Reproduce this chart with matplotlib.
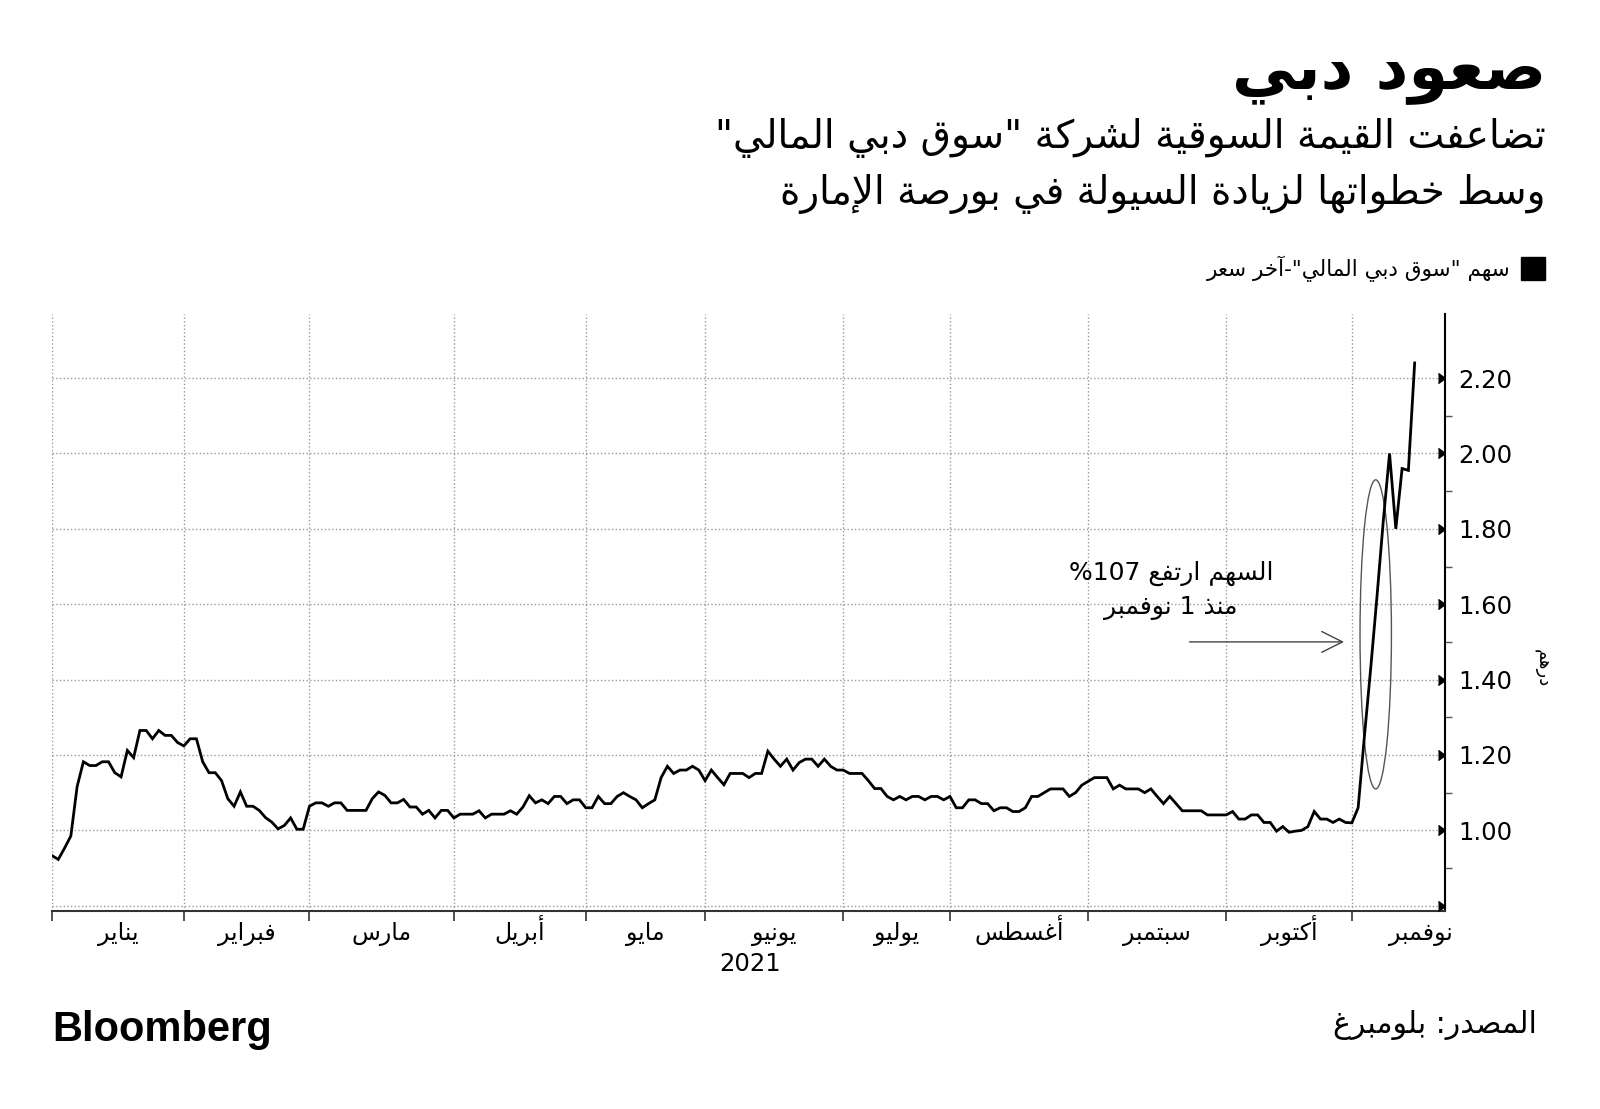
import re
import numpy as np
import matplotlib
matplotlib.use('Agg')
import matplotlib.pyplot as plt
from matplotlib.patches import Ellipse, Rectangle

# matplotlib has no arabic shaping / bidi, so do a small version by hand
RIGHT_JOIN = {0x0622: 0xFE81, 0x0623: 0xFE83, 0x0624: 0xFE85, 0x0625: 0xFE87,
              0x0627: 0xFE8D, 0x0629: 0xFE93, 0x062F: 0xFEA9, 0x0630: 0xFEAB,
              0x0631: 0xFEAD, 0x0632: 0xFEAF, 0x0648: 0xFEED, 0x0649: 0xFEEF}
DUAL_JOIN = {0x0626: 0xFE89, 0x0628: 0xFE8F, 0x062A: 0xFE95, 0x062B: 0xFE99,
             0x062C: 0xFE9D, 0x062D: 0xFEA1, 0x062E: 0xFEA5, 0x0633: 0xFEB1,
             0x0634: 0xFEB5, 0x0635: 0xFEB9, 0x0636: 0xFEBD, 0x0637: 0xFEC1,
             0x0638: 0xFEC5, 0x0639: 0xFEC9, 0x063A: 0xFECD, 0x0641: 0xFED1,
             0x0642: 0xFED5, 0x0643: 0xFED9, 0x0644: 0xFEDD, 0x0645: 0xFEE1,
             0x0646: 0xFEE5, 0x0647: 0xFEE9, 0x064A: 0xFEF1}
LAM_ALEF = {0x0622: 0xFEF5, 0x0623: 0xFEF7, 0x0625: 0xFEF9, 0x0627: 0xFEFB}


def shape(s):
    cps = [ord(c) for c in s]
    items = []
    i = 0
    while i < len(cps):
        if cps[i] == 0x0644 and i + 1 < len(cps) and cps[i + 1] in LAM_ALEF:
            items.append(('la', cps[i + 1]))
            i += 2
        else:
            items.append(('c', cps[i]))
            i += 1

    def kind(it):
        if it[0] == 'la':
            return 'R'
        if it[1] in DUAL_JOIN:
            return 'D'
        if it[1] in RIGHT_JOIN:
            return 'R'
        return None

    out = []
    for j, it in enumerate(items):
        k = kind(it)
        if k is None:
            out.append(chr(it[1]))
            continue
        prev = kind(items[j - 1]) if j > 0 else None
        nxt = kind(items[j + 1]) if j + 1 < len(items) else None
        jp = prev == 'D'
        jn = k == 'D' and nxt is not None
        base = LAM_ALEF[it[1]] if it[0] == 'la' else DUAL_JOIN.get(it[1], RIGHT_JOIN.get(it[1]))
        if jp and jn:
            base += 3
        elif jn:
            base += 2
        elif jp:
            base += 1
        out.append(chr(base))
    return ''.join(out)


def ar(s):
    s = shape(s)
    runs = re.findall(r'[0-9A-Za-z]+|[^0-9A-Za-z]+', s)
    return ''.join(r if r[0].isascii() and r[0].isalnum() else r[::-1] for r in reversed(runs))


# daily close, AED, trading days only
jan = [0.933, 0.923, 0.953, 0.985, 1.116, 1.182, 1.172, 1.172, 1.182, 1.182, 1.153,
       1.142, 1.212, 1.193, 1.265, 1.265, 1.243, 1.265, 1.252, 1.252, 1.233]
feb = [1.224, 1.243, 1.243, 1.182, 1.153, 1.153, 1.132, 1.084, 1.064, 1.102, 1.064,
       1.064, 1.053, 1.034, 1.022, 1.004, 1.013, 1.033, 1.003, 1.003]
mar = [1.064, 1.073, 1.073, 1.064, 1.073, 1.073, 1.053, 1.053, 1.053, 1.053, 1.084,
       1.102, 1.093, 1.073, 1.073, 1.082, 1.062, 1.062, 1.043, 1.053, 1.033, 1.053, 1.053]
apr = [1.033, 1.043, 1.043, 1.043, 1.052, 1.033, 1.043, 1.043, 1.043, 1.052, 1.043,
       1.062, 1.092, 1.073, 1.081, 1.071, 1.09, 1.09, 1.071, 1.081, 1.081]
may = [1.06, 1.06, 1.09, 1.071, 1.071, 1.09, 1.10, 1.09, 1.081, 1.06, 1.071, 1.081,
       1.14, 1.17, 1.151, 1.16, 1.16, 1.17, 1.16]
jun = [1.132, 1.16, 1.14, 1.121, 1.151, 1.151, 1.151, 1.14, 1.151, 1.151, 1.21, 1.189,
       1.17, 1.189, 1.16, 1.18, 1.189, 1.189, 1.17, 1.189, 1.17, 1.16]
jul = [1.16, 1.151, 1.151, 1.151, 1.132, 1.111, 1.111, 1.09, 1.081, 1.09, 1.081, 1.09,
       1.09, 1.081, 1.09, 1.09, 1.081]
aug = [1.09, 1.06, 1.06, 1.081, 1.081, 1.071, 1.071, 1.052, 1.06, 1.06, 1.05, 1.05,
       1.06, 1.09, 1.09, 1.10, 1.11, 1.11, 1.11, 1.09, 1.10, 1.12]
sep = [1.13, 1.14, 1.14, 1.14, 1.11, 1.12, 1.11, 1.11, 1.11, 1.10, 1.11, 1.09, 1.071,
       1.09, 1.071, 1.052, 1.052, 1.052, 1.052, 1.041, 1.041, 1.041]
octo = [1.041, 1.05, 1.03, 1.03, 1.041, 1.041, 1.021, 1.021, 0.998, 1.01, 0.995, 0.998,
        1.0, 1.01, 1.05, 1.03, 1.03, 1.021, 1.03, 1.021]
nov = [1.02, 1.06, 1.25, 1.43, 1.62, 1.82, 2.00, 1.80, 1.96, 1.955, 2.24]

months = [jan, feb, mar, apr, may, jun, jul, aug, sep, octo, nov]
month_names = ['يناير', 'فبراير', 'مارس', 'أبريل', 'مايو', 'يونيو', 'يوليو',
               'أغسطس', 'سبتمبر', 'أكتوبر', 'نوفمبر']
yticks = [0.80, 1.00, 1.20, 1.40, 1.60, 1.80, 2.00, 2.20]

price = np.concatenate(months)
x = np.arange(len(price))
lens = np.array([len(m) for m in months])
starts = np.concatenate([[0], np.cumsum(lens)[:-1]])
ends = np.append(starts[1:], starts[-1] + 22)
centers = (starts + ends) / 2

fig = plt.figure(figsize=(16, 11.09), dpi=100)
ax = fig.add_axes([0.0325, 0.1785, 0.8705, 0.5384])

ax.plot(x, price, color='black', lw=2, solid_joinstyle='miter', zorder=3)
ax.set_xlim(0, 221.8)
ax.set_ylim(0.786, 2.37)

ax.set_xticks(starts)
ax.set_xticklabels([])
ax.tick_params(axis='x', which='major', length=7, width=1.2, color='#333333', direction='out')
# month names centred in each month, on a common baseline
for c, m in zip(centers, month_names):
    ax.text(c, -0.048, ar(m), transform=ax.get_xaxis_transform(), ha='center',
            va='baseline', fontsize=17)

ax.yaxis.tick_right()
ax.set_yticks(yticks)
ax.set_yticklabels(['' if v < 0.9 else f'{v:.2f}' for v in yticks], fontsize=17.5)
ax.set_yticks(np.arange(0.9, 2.25, 0.2), minor=True)
ax.tick_params(axis='y', which='major', length=0, pad=10)
ax.tick_params(axis='y', which='minor', right=True, length=5, width=1, color='#555555')
# arrow-like major ticks
ax.plot(np.ones(len(yticks)), yticks, ls='none', marker=5, ms=7, color='black',
        transform=ax.get_yaxis_transform(), clip_on=False, zorder=4)

ax.grid(True, which='major', ls=':', lw=1, color='#999999')
for s in ['top', 'left']:
    ax.spines[s].set_visible(False)
ax.spines['right'].set_linewidth(1.5)
ax.spines['bottom'].set_linewidth(1.5)
ax.spines['bottom'].set_color('#333333')

fig.text(1543 / 1600, 1 - 668 / 1109, ar('درهم'), rotation=270, ha='center', va='center',
         fontsize=13)

# annotation
ax.add_patch(Ellipse((210.8, 1.52), width=5.0, height=0.82, fill=False, lw=1,
                     edgecolor='#555555', zorder=2))
ax.annotate('', xy=(206.2, 1.50), xytext=(180.7, 1.50),
            arrowprops=dict(arrowstyle='->,head_length=0.6,head_width=0.3',
                            lw=1, color='#444444', mutation_scale=25))
ax.text(178.2, 1.681, ar('السهم ارتفع 107%'), ha='center', va='center', fontsize=18)
ax.text(178.2, 1.589, ar('منذ 1 نوفمبر'), ha='center', va='center', fontsize=18)

fig.text(750 / 1600, 1 - 964 / 1109, '2021', ha='center', va='center', fontsize=17.5)

# titles
fig.text(1546 / 1600, 1 - 73 / 1109, ar('صعود دبي'), ha='right', va='center',
         fontsize=46, fontweight='bold')
fig.text(1546 / 1600, 1 - 138 / 1109, ar('تضاعفت القيمة السوقية لشركة "سوق دبي المالي"'),
         ha='right', va='center', fontsize=28.2)
fig.text(1546 / 1600, 1 - 194 / 1109, ar('وسط خطواتها لزيادة السيولة في بورصة الإمارة'),
         ha='right', va='center', fontsize=28)

# legend
fig.add_artist(Rectangle((1521 / 1600, 1 - 280 / 1109), 24 / 1600, 23 / 1109,
                         transform=fig.transFigure, color='black'))
fig.text(1511 / 1600, 1 - 269 / 1109, ar('سهم "سوق دبي المالي"-آخر سعر'),
         ha='right', va='center', fontsize=15.5)

# footer
fig.text(52 / 1600, 1 - 1030 / 1109, 'Bloomberg', ha='left', va='center',
         fontsize=30, fontweight='bold', family='Liberation Sans')
fig.text(1537 / 1600, 1 - 1025 / 1109, ar('المصدر: بلومبرغ'), ha='right', va='center',
         fontsize=21.5)

fig.savefig('out.png', dpi=100, facecolor='white')
